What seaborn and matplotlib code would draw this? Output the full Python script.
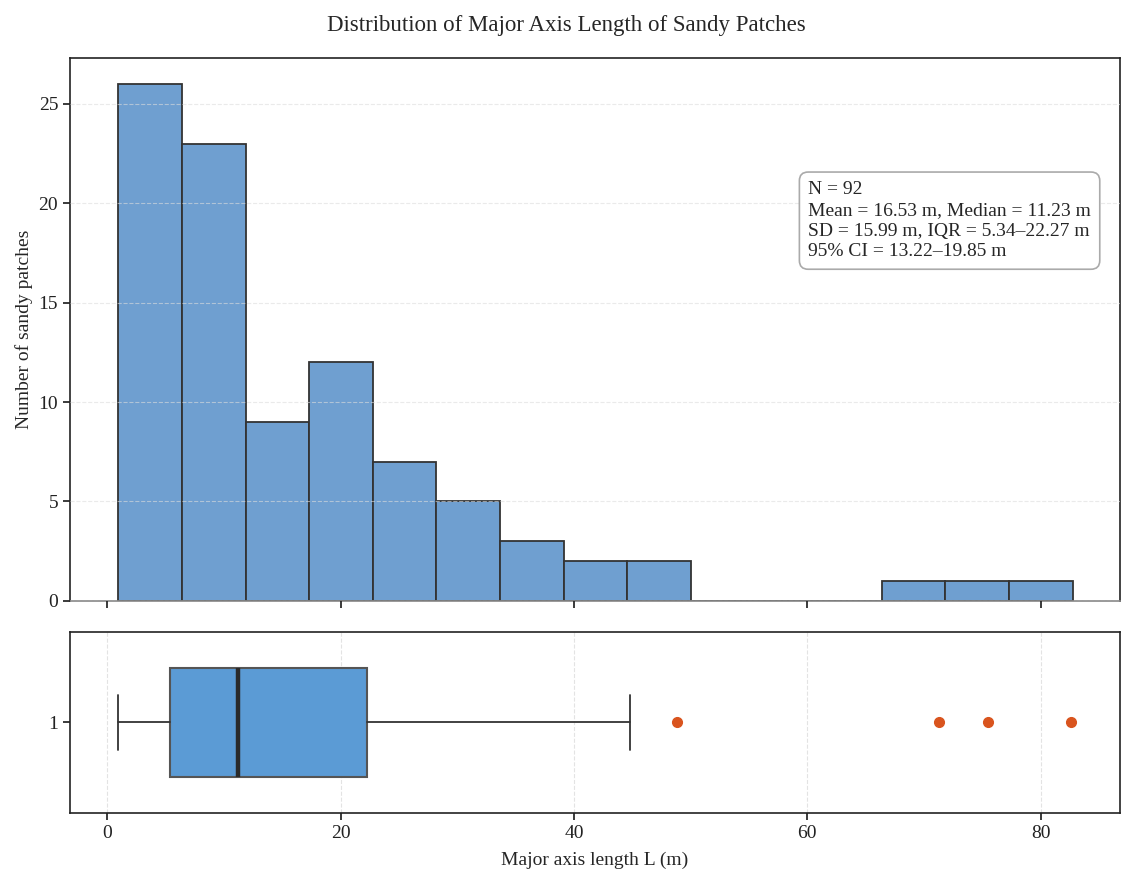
import numpy as np
import pandas as pd
import matplotlib
matplotlib.use("Agg")
import matplotlib.pyplot as plt
import seaborn as sns

# ---- data ----
bin_start = 0.94
bin_end = 82.75
hist_counts = [26, 23, 9, 12, 7, 5, 3, 2, 2, 0, 0, 0, 1, 1, 1]
box_whislo = 0.94
box_q1 = 5.34
box_median = 11.23
box_q3 = 22.27
box_whishi = 44.8
box_outliers = [48.8, 71.3, 75.5, 82.6]
stats_lines = [
    "N = 92",
    "Mean = 16.53 m, Median = 11.23 m",
    "SD = 15.99 m, IQR = 5.34\u201322.27 m",
    "95% CI = 13.22\u201319.85 m",
]
title = "Distribution of Major Axis Length of Sandy Patches"
xlabel = "Major axis length L (m)"
ylabel = "Number of sandy patches"

sns.set_theme(style="ticks")
plt.rcParams['font.family'] = ['Liberation Serif', 'DejaVu Serif']
plt.rcParams['axes.edgecolor'] = '#222222'
plt.rcParams['axes.linewidth'] = 1.2
plt.rcParams['xtick.color'] = '#222222'
plt.rcParams['ytick.color'] = '#222222'
plt.rcParams['xtick.major.size'] = 5
plt.rcParams['ytick.major.size'] = 5

edges = np.linspace(bin_start, bin_end, len(hist_counts) + 1)
centers = (edges[:-1] + edges[1:]) / 2
hist_df = pd.DataFrame({"L": centers, "count": hist_counts})

fig = plt.figure(figsize=(11.32, 8.81), dpi=100)
ax1 = fig.add_axes([0.0618, 0.318, 0.9276, 0.616])
ax2 = fig.add_axes([0.0618, 0.077, 0.9276, 0.206], sharex=ax1)

sns.histplot(data=hist_df, x="L", weights="count", bins=[float(e) for e in edges], ax=ax1,
             color='#6F9FD0', alpha=1.0, edgecolor='#333333', linewidth=1.3, zorder=1)
ax1.set_ylim(0, 27.3)
ax1.set_xlim(-3.2, 86.8)
ax1.set_ylabel(ylabel, fontsize=14)
ax1.set_xlabel("")
ax1.set_axisbelow(False)
ax1.grid(axis='y', linestyle='--', color='#dddddd', linewidth=0.8, alpha=0.6, zorder=3)
ax1.tick_params(axis='x', labelbottom=False)
ax1.tick_params(labelsize=14)
ax1.spines['bottom'].set_color('#888888')
ax1.set_yticks([0, 5, 10, 15, 20, 25])

ax1.text(0.703, 0.774, "\n".join(stats_lines), transform=ax1.transAxes,
         ha='left', va='top', fontsize=14, linespacing=1.3, zorder=5,
         bbox=dict(boxstyle='round,pad=0.45', facecolor='white',
                   edgecolor='#aaaaaa', linewidth=1.2))

stats = [dict(whislo=box_whislo, q1=box_q1, med=box_median, q3=box_q3,
              whishi=box_whishi, fliers=box_outliers, label='1')]
ax2.bxp(stats, positions=[1], widths=0.6, vert=False, patch_artist=True,
        boxprops=dict(facecolor='#5B9BD5', edgecolor='#555555', linewidth=1.5),
        medianprops=dict(color='#2a2a2a', linewidth=3.2),
        whiskerprops=dict(color='#333333', linewidth=1.3),
        capprops=dict(color='#333333', linewidth=1.3),
        flierprops=dict(marker='o', markerfacecolor='#D9541E',
                        markeredgecolor='#D9541E', markersize=7))
ax2.set_ylim(0.5, 1.5)
ax2.set_yticks([1])
ax2.set_yticklabels(['1'])
ax2.grid(axis='x', linestyle='--', color='#dddddd', linewidth=0.8, alpha=0.8)
ax2.set_axisbelow(True)
ax2.set_xlabel(xlabel, fontsize=14, labelpad=7)
ax2.tick_params(labelsize=14)
ax2.set_xticks([0, 20, 40, 60, 80])

fig.suptitle(title, fontsize=16.5, y=0.983)

fig.savefig("out.png", dpi=100)
